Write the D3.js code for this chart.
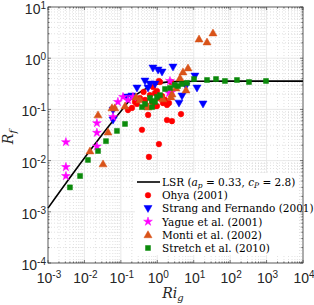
<!DOCTYPE html>
<html>
<head>
<meta charset="UTF-8">
<title>Rf vs Ri</title>
<script src="https://cdn.jsdelivr.net/npm/d3@7"></script>
<style>
  body { margin: 0; padding: 0; background: #fff; }
  svg { display: block; }
  .tick-label { font-family: "Liberation Sans", Arial, sans-serif; font-size: 14px; fill: #262626; }
  .legend-text { font-family: "DejaVu Serif", serif; font-size: 10.5px; fill: #000; }
  .axis-title { font-family: "DejaVu Serif", serif; font-style: italic; font-size: 14px; fill: #262626; }
</style>
</head>
<body>
<div id="chart"></div>
<script>
// axis decades
const xExps = [-3, -2, -1, 0, 1, 2, 3, 4];
const yExps = [-4, -3, -2, -1, 0, 1];

// LSR curve
const lsrRi = [0.001, 0.01, 0.05, 0.1, 0.2, 0.4, 0.7, 1.2, 3, 10, 100, 10000];
const lsrRf = [0.00118, 0.0112, 0.05, 0.092, 0.165, 0.235, 0.285, 0.325, 0.348, 0.355, 0.357, 0.357];

// Ohya (2001)
const ohyaRi = [0.38, 1.11, 0.59, 4.48, 1.85, 2.53, 0.56, 0.98, 1.85, 2.10, 1.11, 0.98, 0.87, 1.19, 0.76, 0.335, 0.244, 1.43, 2.38, 0.157, 0.202, 0.277, 0.46, 0.63, 0.865, 0.49, 0.72, 1.05, 1.35, 1.63, 0.42];
const ohyaRf = [0.040, 0.021, 0.0118, 0.081, 0.062, 0.059, 0.078, 0.116, 0.122, 0.133, 0.359, 0.229, 0.116, 0.343, 0.274, 0.167, 0.140, 0.133, 0.343, 0.097, 0.107, 0.128, 0.153, 0.19, 0.209, 0.122, 0.14, 0.167, 0.183, 0.153, 0.219];

// Strang and Fernando (2001)
const strangRi = [0.76, 1.05, 1.35, 2.70, 10.8, 12.3, 4.77, 3.94, 18.0, 0.87, 6.14, 0.46, 0.277, 0.20, 0.061, 0.061, 0.147, 0.63, 0.556];
const strangRf = [0.644, 0.589, 0.537, 0.673, 0.449, 0.262, 0.183, 0.133, 0.128, 0.313, 0.286, 0.359, 0.262, 0.183, 0.097, 0.062, 0.175, 0.313, 0.262];

// Yague et al. (2001)
const yagueRi = [0.1145, 0.083, 0.061, 0.0031, 0.022, 0.022, 0.022, 0.0031, 0.0031, 2.23, 2.10, 0.215, 2.53, 0.157];
const yagueRf = [0.175, 0.140, 0.071, 0.023, 0.054, 0.035, 0.019, 0.0075, 0.0050, 0.359, 0.209, 0.175, 0.219, 0.153];

// Monti et al. (2002)
const montiRi = [33.8, 14.0, 23.2, 6.97, 5.08, 4.20, 6.14, 3.26, 2.38, 1.43, 2.53, 0.556, 0.261, 0.057, 0.0236, 0.0444, 0.0142, 0.0324, 0.068, 0.335, 0.13];
const montiRf = [3.11, 2.37, 2.07, 0.644, 0.537, 0.41, 0.239, 0.262, 0.175, 0.160, 0.200, 0.111, 0.175, 0.107, 0.078, 0.036, 0.0154, 0.0086, 0.107, 0.153, 0.116];

// Stretch et al. (2010)
const stretchRi = [964, 329, 154, 72, 40.9, 23.2, 10.2, 6.54, 3.70, 1.63, 0.98, 0.72, 2.23, 0.63, 0.38, 0.13, 0.078, 0.039, 0.0236, 0.0125, 0.0076, 0.0040, 0.46, 0.865, 1.19, 3.0, 4.77, 0.716];
const stretchRf = [0.359, 0.343, 0.375, 0.359, 0.392, 0.375, 0.392, 0.328, 0.286, 0.25, 0.175, 0.146, 0.262, 0.167, 0.111, 0.052, 0.038, 0.024, 0.0154, 0.0103, 0.0050, 0.0030, 0.128, 0.140, 0.19, 0.30, 0.313, 0.111];

const legendLabels = ["Ohya (2001)", "Strang and Fernando (2001)", "Yague et al. (2001)", "Monti et al. (2002)", "Stretch et al. (2010)"];

const W = 314, H = 305;
const pLeft = 48, pRight = 303, pTop = 7, pBottom = 263;

const svg = d3.select("#chart").append("svg").attr("width", W).attr("height", H);

const x = d3.scaleLog().domain([1e-3, 1e4]).range([pLeft, pRight]);
const y = d3.scaleLog().domain([1e-4, 1e1]).range([pBottom, pTop]);

// minor values in each decade
const minorX = [], minorY = [];
for (let e = -3; e < 4; e++) for (let m = 2; m < 10; m++) minorX.push(m * Math.pow(10, e));
for (let e = -4; e < 1; e++) for (let m = 2; m < 10; m++) minorY.push(m * Math.pow(10, e));
const majorX = xExps.map(e => Math.pow(10, e));
const majorY = yExps.map(e => Math.pow(10, e));

const grid = svg.append("g");
// minor grid, dotted
grid.selectAll(".mgx").data(minorX).enter().append("line")
  .attr("x1", d => x(d)).attr("x2", d => x(d)).attr("y1", pTop).attr("y2", pBottom)
  .attr("stroke", "#cccccc").attr("stroke-width", 0.6).attr("stroke-dasharray", "1,2");
grid.selectAll(".mgy").data(minorY).enter().append("line")
  .attr("y1", d => y(d)).attr("y2", d => y(d)).attr("x1", pLeft).attr("x2", pRight)
  .attr("stroke", "#cccccc").attr("stroke-width", 0.6).attr("stroke-dasharray", "1,2");
// major grid
grid.selectAll(".gx").data(majorX).enter().append("line")
  .attr("x1", d => x(d)).attr("x2", d => x(d)).attr("y1", pTop).attr("y2", pBottom)
  .attr("stroke", "#e3e3e3").attr("stroke-width", 0.8);
grid.selectAll(".gy").data(majorY).enter().append("line")
  .attr("y1", d => y(d)).attr("y2", d => y(d)).attr("x1", pLeft).attr("x2", pRight)
  .attr("stroke", "#e3e3e3").attr("stroke-width", 0.8);

// LSR line
const lsr = lsrRi.map((r, i) => [r, lsrRf[i]]);
svg.append("path").datum(lsr)
  .attr("fill", "none").attr("stroke", "#000").attr("stroke-width", 1.6)
  .attr("d", d3.line().x(d => x(d[0])).y(d => y(d[1])).curve(d3.curveMonotoneX));

// marker shapes
const sym = {
  circle: d3.symbol().type(d3.symbolCircle).size(25),
  down: d3.symbol().type(d3.symbolTriangle).size(28),
  up: d3.symbol().type(d3.symbolTriangle).size(28),
  star: d3.symbol().type(d3.symbolStar).size(24),
  square: d3.symbol().type(d3.symbolSquare).size(25)
};

const series = [
  { ri: ohyaRi, rf: ohyaRf, color: "#ff0000", shape: "circle" },
  { ri: strangRi, rf: strangRf, color: "#0000ff", shape: "down" },
  { ri: yagueRi, rf: yagueRf, color: "#ff00ff", shape: "star" },
  { ri: montiRi, rf: montiRf, color: "#d95319", shape: "up" },
  { ri: stretchRi, rf: stretchRf, color: "#0b8a0b", shape: "square" }
];

function marker(g, s, cx, cy) {
  const rot = s.shape === "down" ? 180 : 0;
  const dy = s.shape === "up" ? 0.6 : s.shape === "down" ? -0.6 : 0;
  g.append("path")
    .attr("d", sym[s.shape]())
    .attr("transform", `translate(${cx},${cy + dy}) rotate(${rot})`)
    .attr("fill", s.color).attr("stroke", s.color).attr("stroke-width", 0.5);
}

series.forEach(s => {
  const g = svg.append("g");
  s.ri.forEach((r, i) => marker(g, s, x(r), y(s.rf[i])));
});

// axes box
const axisColor = "#262626";
svg.append("rect").attr("x", pLeft).attr("y", pTop).attr("width", pRight - pLeft).attr("height", pBottom - pTop)
  .attr("fill", "none").attr("stroke", axisColor).attr("stroke-width", 0.7);

// ticks (inside)
const tk = svg.append("g").attr("stroke", axisColor).attr("stroke-width", 0.6);
majorX.forEach(v => {
  tk.append("line").attr("x1", x(v)).attr("x2", x(v)).attr("y1", pBottom).attr("y2", pBottom - 3);
  tk.append("line").attr("x1", x(v)).attr("x2", x(v)).attr("y1", pTop).attr("y2", pTop + 3);
});
minorX.forEach(v => {
  tk.append("line").attr("x1", x(v)).attr("x2", x(v)).attr("y1", pBottom).attr("y2", pBottom - 1.6);
  tk.append("line").attr("x1", x(v)).attr("x2", x(v)).attr("y1", pTop).attr("y2", pTop + 1.6);
});
majorY.forEach(v => {
  tk.append("line").attr("y1", y(v)).attr("y2", y(v)).attr("x1", pLeft).attr("x2", pLeft + 3);
  tk.append("line").attr("y1", y(v)).attr("y2", y(v)).attr("x1", pRight).attr("x2", pRight - 3);
});
minorY.forEach(v => {
  tk.append("line").attr("y1", y(v)).attr("y2", y(v)).attr("x1", pLeft).attr("x2", pLeft + 1.6);
  tk.append("line").attr("y1", y(v)).attr("y2", y(v)).attr("x1", pRight).attr("x2", pRight - 1.6);
});

// tick labels
function powLabel(sel, e) {
  sel.append("tspan").text("10");
  sel.append("tspan").attr("dy", -5).attr("font-size", 10).text(e < 0 ? "-" + (-e) : String(e));
}
xExps.forEach(e => {
  const t = svg.append("text").attr("class", "tick-label")
    .attr("x", x(Math.pow(10, e)) + 1).attr("y", pBottom + 20).attr("text-anchor", "middle");
  powLabel(t, e);
});
yExps.forEach(e => {
  const t = svg.append("text").attr("class", "tick-label")
    .attr("x", pLeft - 2).attr("y", y(Math.pow(10, e)) + 7).attr("text-anchor", "end");
  powLabel(t, e);
});

// axis titles
const xt = svg.append("text").attr("class", "axis-title").attr("x", 173).attr("y", 298).attr("text-anchor", "middle");
xt.append("tspan").text("Ri");
xt.append("tspan").attr("dy", 3).attr("font-size", 10).text("g");

const yt = svg.append("text").attr("class", "axis-title").attr("transform", "translate(13,137) rotate(-90)").attr("text-anchor", "middle");
yt.append("tspan").text("R");
yt.append("tspan").attr("dy", 3).attr("font-size", 10).text("f");

// legend
const lg = svg.append("g");
lg.append("rect").attr("x", 135).attr("y", 173).attr("width", 163).attr("height", 82).attr("fill", "#fff");
const rowY = d3.range(6).map(i => 182 + i * 13.2);
lg.append("line").attr("x1", 137).attr("x2", 160).attr("y1", rowY[0]).attr("y2", rowY[0])
  .attr("stroke", "#000").attr("stroke-width", 1.6);
const l0 = lg.append("text").attr("class", "legend-text").attr("x", 162).attr("y", rowY[0] + 4);
l0.append("tspan").text("LSR (");
l0.append("tspan").attr("font-style", "italic").text("a");
l0.append("tspan").attr("font-style", "italic").attr("font-size", 7.5).attr("dy", 2).text("p");
l0.append("tspan").attr("dy", -2).text(" = 0.33, ");
l0.append("tspan").attr("font-style", "italic").text("c");
l0.append("tspan").attr("font-style", "italic").attr("font-size", 7.5).attr("dy", 2).text("P");
l0.append("tspan").attr("dy", -2).text(" = 2.8)");

series.forEach((s, i) => {
  marker(lg, s, 148, rowY[i + 1]);
  lg.append("text").attr("class", "legend-text").attr("x", 162).attr("y", rowY[i + 1] + 4).text(legendLabels[i]);
});
</script>
</body>
</html>
